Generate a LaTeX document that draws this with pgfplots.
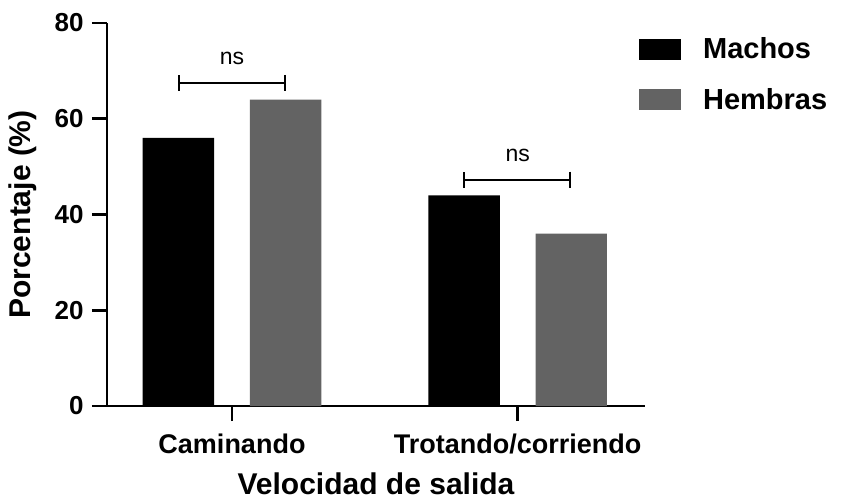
\documentclass[border=0pt]{standalone}
\usepackage{pgfplots}
\pgfplotsset{compat=1.18}
\usetikzlibrary{arrows.meta}
\usepackage{fontspec}
\setmainfont{Liberation Sans}
\definecolor{hgray}{HTML}{636363}
\begin{document}
\begin{tikzpicture}
\path[use as bounding box] (-107bp,-96bp) rectangle (735bp,406bp);
\begin{axis}[
  scale only axis, width=538bp, height=383bp,
  xmin=0.5625, xmax=2.4456, ymin=0, ymax=80,
  axis lines=left, axis line style={-, line width=2.6bp},
  xtick={1,2}, xticklabels={Caminando, Trotando/corriendo},
  ytick={0,20,40,60,80},
  tick align=outside, major tick length=15bp,
  tick style={line width=2.6bp, black},
  /pgf/number format/assume math mode=true,
  yticklabel style={font=\fontsize{26bp}{30bp}\selectfont\bfseries, xshift=-5bp},
  xticklabel style={font=\fontsize{27bp}{32bp}\selectfont\bfseries, yshift=-9bp},
  xlabel={Velocidad de salida}, ylabel={Porcentaje (\%)},
  label style={font=\fontsize{30bp}{36bp}\selectfont\bfseries},
  xlabel style={yshift=-12bp},
  ylabel style={yshift=11bp},
  legend style={at={(rel axis cs:0.9887,0.962)}, anchor=north west, draw=none, fill=none,
    font=\fontsize{29bp}{34bp}\selectfont\bfseries, row sep=28bp, inner sep=0pt,
    nodes={inner sep=0pt}},
  legend cell align=left,
  legend image code/.code={\path[#1] (0bp,-10.5bp) rectangle (42bp,10.5bp);
    \path[draw=none, fill=none] (0bp,0bp) -- (64bp,0bp);},
]
\addplot[ybar, bar width=0.25, fill=black, draw=none, bar shift=0pt]
  coordinates {(0.8125,56) (1.8125,44)};
\addlegendentry{Machos}
\addplot[ybar, bar width=0.25, fill=hgray, draw=none, bar shift=0pt]
  coordinates {(1.1875,64) (2.1875,36)};
\addlegendentry{Hembras}
\addplot[forget plot, black, line width=2bp, {Bar[width=16bp]}-{Bar[width=16bp]}]
  coordinates {(0.81,67.5) (1.19,67.5)};
\addplot[forget plot, black, line width=2bp, {Bar[width=16bp]}-{Bar[width=16bp]}]
  coordinates {(1.81,47.3) (2.185,47.3)};
\node[font=\fontsize{23bp}{28bp}\selectfont] at (axis cs:1,72.6) {ns};
\node[font=\fontsize{23bp}{28bp}\selectfont] at (axis cs:2,52.4) {ns};
\end{axis}
\end{tikzpicture}
\end{document}
